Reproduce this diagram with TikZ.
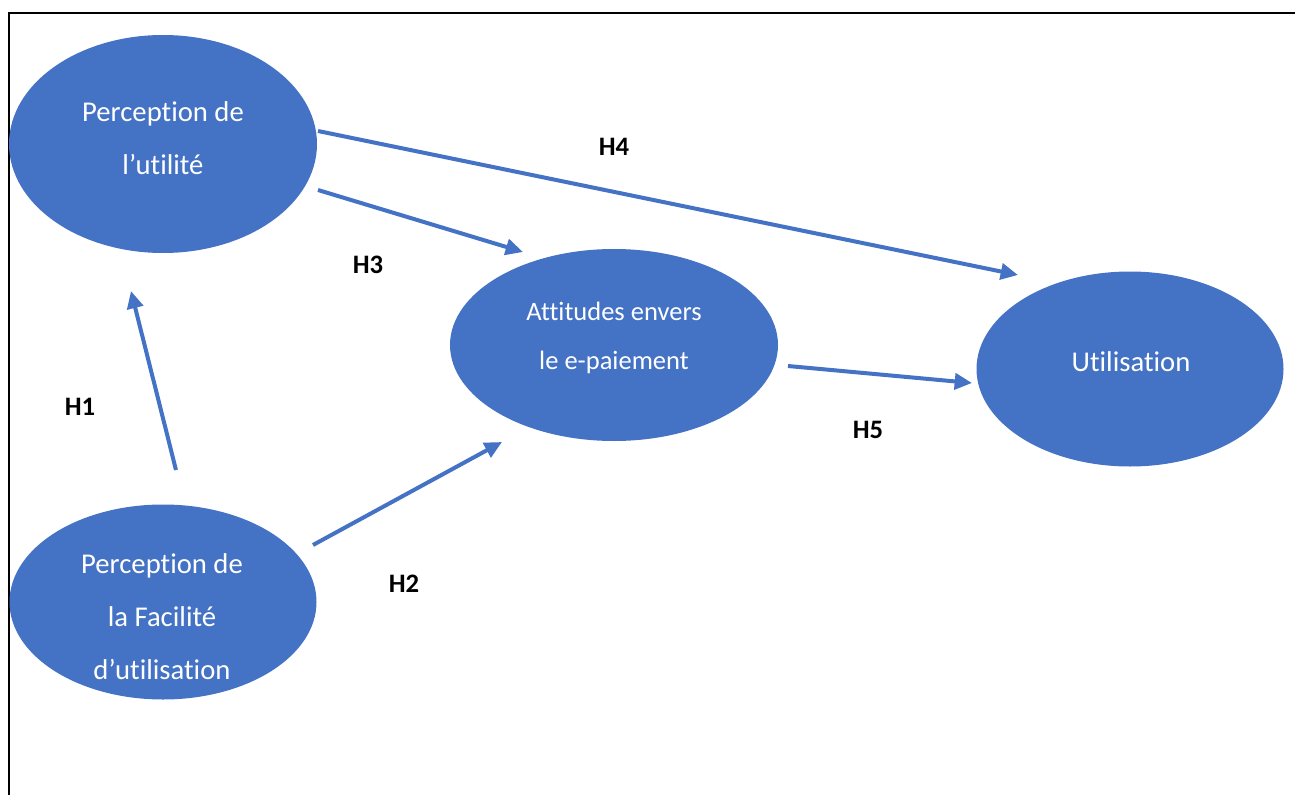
\documentclass[tikz,border=0pt]{standalone}
\usepackage{fontspec}
\setmainfont{Carlito}[Ligatures=NoCommon]
\usetikzlibrary{shapes.geometric,arrows.meta}
\definecolor{oblue}{HTML}{4472C4}
\tikzset{
  bubble/.style={ellipse, fill=oblue, draw=none, inner sep=0pt},
  btext/.style={text=white, align=center, font=\fontsize{21.5}{39.75}\selectfont},
  atext/.style={text=white, align=center, font=\fontsize{19.9}{36.75}\selectfont},
  hlab/.style={font=\fontsize{20}{24}\selectfont\bfseries, text=black},
  conn/.style={draw=oblue, line width=3pt, -{Triangle[length=13pt,width=12pt]}},
}
\begin{document}
\begin{tikzpicture}[x=0.75pt,y=-0.75pt]
\useasboundingbox (0,0) rectangle (1295,795);
% frame
\coordinate (fTL) at (9,13);
\coordinate (fTR) at (1295,13);
\coordinate (fBL) at (9,795);
\draw[line width=1.5pt] (fBL) -- (fTL) -- (fTR);
% ellipses
\node[bubble, minimum width=231pt, minimum height=163.5pt] (pu) at (163,144) {};
\node[bubble, minimum width=246pt, minimum height=144pt] (at) at (614,345) {};
\node[bubble, minimum width=230.25pt, minimum height=146.25pt] (ut) at (1130,369) {};
\node[bubble, minimum width=230.25pt, minimum height=146.25pt] (pf) at (163,602) {};
% texts
\node[btext] (pu-t) at (163,138) {Perception de\\l’utilité};
\node[atext] (at-t) at (614,338) {Attitudes envers\\le e-paiement};
\node[btext] (ut-t) at (1131,362) {Utilisation};
\node[btext] (pf-t) at (162,617) {Perception de\\la Facilité\\d’utilisation};
% connector ends
\coordinate (h4s) at (318,131);
\coordinate (h4e) at (1018,275);
\coordinate (h3s) at (318,190);
\coordinate (h3e) at (523,252);
\coordinate (h1s) at (176,470);
\coordinate (h1e) at (131,291);
\coordinate (h2s) at (313,545);
\coordinate (h2e) at (502,442);
\coordinate (h5s) at (788,366);
\coordinate (h5e) at (972,383);
\draw[conn] (h4s) -- (h4e);
\draw[conn] (h3s) -- (h3e);
\draw[conn] (h1s) -- (h1e);
\draw[conn] (h2s) -- (h2e);
\draw[conn] (h5s) -- (h5e);
% labels
\node[hlab] (l4) at (614,147) {H4};
\node[hlab] (l3) at (368,265) {H3};
\node[hlab] (l1) at (80,407) {H1};
\node[hlab] (l5) at (868,430) {H5};
\node[hlab] (l2) at (404,584) {H2};
\end{tikzpicture}
\end{document}
